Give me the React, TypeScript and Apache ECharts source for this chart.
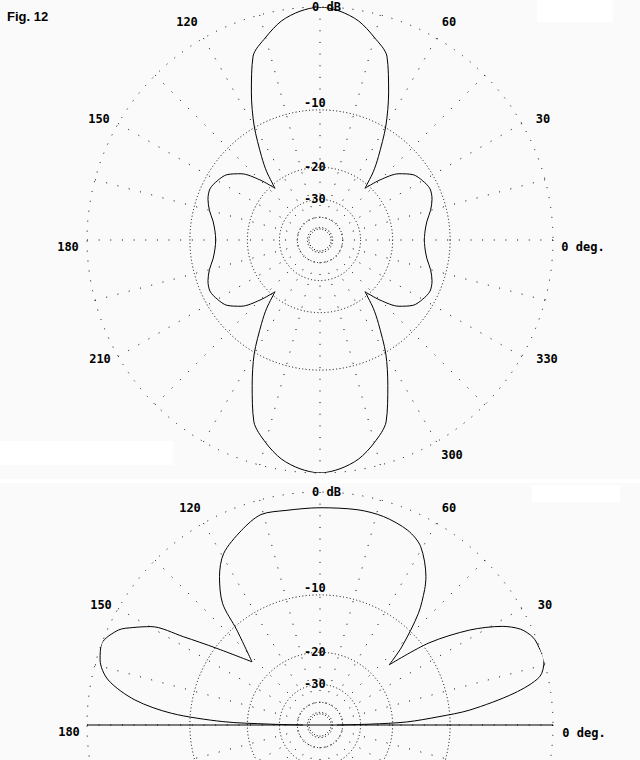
import React, { useEffect, useRef } from 'react';
import * as echarts from 'echarts';

// Azimuth (top) pattern: angle in degrees, gain in dB
const azimuthAngles = [
  0, 5, 10, 15, 20, 25, 30, 35, 40, 45, 49, 52, 55, 60, 65, 70, 75, 80, 85, 90,
  95, 100, 105, 110, 115, 120, 125, 128, 131, 135, 140, 145, 150, 155, 160, 165, 170, 175, 180,
  185, 190, 195, 200, 205, 210, 215, 220, 225, 229, 232, 235, 240, 245, 250, 255, 260, 265, 270,
  275, 280, 285, 290, 295, 300, 305, 308, 311, 315, 320, 325, 330, 335, 340, 345, 350, 355, 360,
];
const azimuthDb = [
  -13.8, -13.6, -13.1, -12.2, -11.5, -11.2, -11.6, -12.3, -14.0, -17.3, -21, -17, -14.2, -9.8, -6.2, -3.0, -1.8, -0.8, -0.25, 0,
  -0.25, -0.8, -1.8, -3.0, -6.2, -9.8, -14.2, -17, -21, -17.3, -14.0, -12.3, -11.6, -11.2, -11.5, -12.2, -13.1, -13.6, -13.8,
  -13.6, -13.1, -12.2, -11.5, -11.2, -11.6, -12.3, -14.0, -17.3, -21, -17, -14.2, -9.8, -6.4, -3.2, -1.8, -0.8, -0.25, 0,
  -0.25, -0.8, -1.8, -3.2, -6.4, -9.8, -14.2, -17, -21, -17.3, -14.0, -12.3, -11.6, -11.2, -11.5, -12.2, -13.1, -13.6, -13.8,
];

// Elevation (bottom) pattern
const elevationAngles = [
  0, 1, 2, 4, 5.7, 9.3, 12.4, 16, 19.5, 22.4, 25.5, 28.4, 32.4, 37, 41, 43.7, 48.6, 52.3, 54.5, 60.6, 65.7, 73, 80, 90,
  99, 105.7, 112, 119.3, 124.1, 128.7, 131.2, 137.1, 143.5, 147.1, 149.8, 152.5, 154.8, 159.5, 163.5, 168, 172.3, 175.5, 178, 179, 180,
];
const elevationDb = [
  -45, -26, -17, -11.5, -7.5, -2.9, -0.6, 0, -0.05, -0.2, -0.8, -2.0, -4.7, -9.2, -16, -12.4, -7.7, -5.3, -4.2, -2.2, -1.5, -1.15, -1.1, -1.2,
  -1.2, -1.1, -1.8, -2.9, -4.5, -6.9, -10.5, -15.8, -10.1, -6.2, -3.0, -1.7, -0.76, 0, -0.27, -1.26, -3.8, -7.7, -15, -26, -45,
];

// Ground line of elevation plot (angles of its two ends)
const groundAngles = [180, 0];

// Grid rings (dB) and their labels
const ringDb = [0, -10, -20, -30, -40, -50];
const ringLabels = ['0 dB', '-10', '-20', '-30', '', ''];

// Angle tick labels
const azimuthLabels = ['120', '60', '150', '30', '180', '0 deg.', '210', '330', '300'];
const elevationLabels = ['120', '60', '150', '30', '180', '0 deg.'];

// Layout (label centres, px)
const azimuthLabelPos = [
  [187, 22], [449, 22], [99, 119], [543, 119], [68, 247], [583, 247], [100, 359], [547, 359], [452, 455],
];
const elevationLabelPos = [
  [190, 508], [449, 508], [101, 605], [545, 605], [69, 732], [584, 733],
];

const arrl = (db: number) => Math.pow(0.89, -db / 2);

const MONO = '"DejaVu Sans Mono", monospace';

export default function App() {
  const ref = useRef<HTMLDivElement>(null);

  useEffect(() => {
    if (!ref.current) return;
    const chart = echarts.init(ref.current, undefined, { renderer: 'svg' });

    const angleAxis = [0, 1].map((i) => ({
      polarIndex: i,
      type: 'value',
      min: 0,
      max: 360,
      interval: 15,
      startAngle: 0,
      clockwise: false,
      axisLine: { show: false },
      axisTick: { show: false },
      axisLabel: { show: false },
      splitLine: { show: true, lineStyle: { color: '#000', width: 1, type: [1, 10.65] } },
    }));
    const radiusAxis = [0, 1].map((i) => ({
      polarIndex: i,
      type: 'value',
      min: 0,
      max: 1,
      axisLine: { show: false },
      axisTick: { show: false },
      axisLabel: { show: false },
      splitLine: { show: false },
    }));

    const ringSeries = (polarIndex: number) => ({
      type: 'custom',
      coordinateSystem: 'polar',
      polarIndex,
      silent: true,
      z: 1,
      data: ringDb.map((db) => [arrl(db), 90, db]),
      encode: { radius: 0, angle: 1 },
      renderItem: (params: any, api: any) => {
        const cs = params.coordSys;
        const db = api.value(2) as number;
        const p = api.coord([api.value(0), 90]);
        const rr = Math.abs(cs.cy - p[1]);
        const label = ringLabels[params.dataIndex];
        const children: any[] = [
          {
            type: 'circle',
            shape: { cx: cs.cx, cy: cs.cy, r: rr },
            style: { fill: 'none', stroke: '#000', lineWidth: 1, lineDash: db === 0 ? [1, 9] : [1, 2.4] },
          },
        ];
        if (label) {
          children.push({
            type: 'text',
            x: cs.cx + (db === 0 ? -8 : -16),
            y: p[1] + (db === -10 ? -7 : 0),
            style: {
              text: label,
              font: `bold 12px ${MONO}`,
              fill: '#000',
              align: 'left',
              verticalAlign: 'middle',
              textAlign: 'left',
              textVerticalAlign: 'middle',
            },
          });
        }
        return { type: 'group', children };
      },
    });

    const textEl = (text: string, pos: number[]) => ({
      type: 'text',
      x: pos[0],
      y: pos[1],
      z: 10,
      style: {
        text,
        font: `bold 12px ${MONO}`,
        fill: '#000',
        align: 'center',
        verticalAlign: 'middle',
        textAlign: 'center',
        textVerticalAlign: 'middle',
      },
    });

    const patternLine = (polarIndex: number, angles: number[], dbs: number[]) => ({
      type: 'line',
      coordinateSystem: 'polar',
      polarIndex,
      symbol: 'none',
      smooth: 0.3,
      clip: false,
      z: 3,
      lineStyle: { color: '#000', width: 1 },
      data: angles.map((a, i) => [arrl(dbs[i]), a]),
    });

    const option: any = {
      animation: false,
      backgroundColor: '#fafafa',
      polar: [
        { center: [320, 240], radius: 233 },
        { center: [320, 725], radius: 233 },
      ],
      angleAxis,
      radiusAxis,
      graphic: [
        { type: 'rect', shape: { x: 537, y: 0, width: 76, height: 22 }, style: { fill: '#ffffff' }, z: -10 },
        { type: 'rect', shape: { x: 0, y: 441, width: 173, height: 24 }, style: { fill: '#ffffff' }, z: -10 },
        { type: 'rect', shape: { x: 532, y: 485, width: 88, height: 17 }, style: { fill: '#ffffff' }, z: -10 },
        { type: 'rect', shape: { x: 0, y: 479, width: 640, height: 4 }, style: { fill: '#ffffff' }, z: -10 },
        {
          type: 'text',
          x: 7,
          y: 10,
          z: 10,
          style: {
            text: 'Fig. 12',
            font: 'bold 13px "Liberation Sans", Arial, sans-serif',
            fill: '#000',
            align: 'left',
            verticalAlign: 'top',
            textAlign: 'left',
            textVerticalAlign: 'top',
          },
        },
        ...azimuthLabels.map((t, i) => textEl(t, azimuthLabelPos[i])),
        ...elevationLabels.map((t, i) => textEl(t, elevationLabelPos[i])),
      ],
      series: [
        ringSeries(0),
        ringSeries(1),
        patternLine(0, azimuthAngles, azimuthDb),
        patternLine(1, elevationAngles, elevationDb),
        {
          type: 'line',
          coordinateSystem: 'polar',
          polarIndex: 1,
          symbol: 'none',
          clip: false,
          z: 3,
          lineStyle: { color: '#000', width: 1 },
          data: groundAngles.map((a) => [1, a]),
        },
      ],
    };

    chart.setOption(option);
    return () => chart.dispose();
  }, []);

  return (
    <div
      ref={ref}
      style={{ position: 'fixed', left: 0, top: 0, width: 640, height: 760 }}
    />
  );
}
